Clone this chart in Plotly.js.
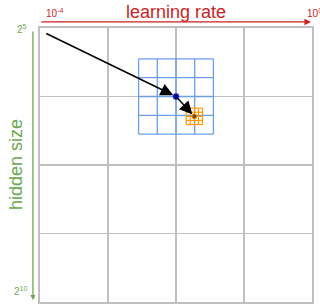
<!DOCTYPE html>
<html><head><meta charset="utf-8">
<script src="https://cdn.plot.ly/plotly-3.0.1.min.js"></script>
<style>html,body{margin:0;padding:0;background:#fff;}#chart{width:320px;height:306px;}</style>
</head><body><div id="chart"></div>
<script>
// Coarse search grid (learning-rate axis x, hidden-size axis y), in grid units
const coarseX = [0, 1, 2, 3, 4];
const coarseY = [0, 1, 2, 3, 4];
// Medium (blue) search grid lines
const blueX = [1.45, 1.725, 2, 2.275, 2.55];
const blueY = [0.45, 0.725, 1, 1.275, 1.55];
// Fine (orange) search grid lines
const orangeX = [2.15, 2.21, 2.27, 2.33, 2.39];
const orangeY = [1.17, 1.23, 1.29, 1.35, 1.41];
// Search path: start, best coarse point, best fine point
const pathX = [0.07, 2, 2.27];
const pathY = [0.07, 1, 1.29];
// Axis labels
const xTickLabels = ['10<sup>-4</sup>', '10<sup>0</sup>'];
const yTickLabels = ['2<sup>5</sup>', '2<sup>10</sup>'];

function gridTrace(xs, ys, color, width) {
  const x = [], y = [];
  xs.forEach(v => { x.push(v, v, null); y.push(ys[0], ys[ys.length-1], null); });
  ys.forEach(v => { x.push(xs[0], xs[xs.length-1], null); y.push(v, v, null); });
  return {x, y, mode: 'lines', line: {color, width}, hoverinfo: 'skip', showlegend: false};
}

const RED = '#cc1f1f', GREEN = '#6aa84f';
const data = [
  gridTrace(blueX, blueY, '#6d9eeb', 1.3),
  gridTrace(orangeX, orangeY, '#ff9900', 1.2),
  {x: [pathX[1]], y: [pathY[1]], mode: 'markers', showlegend: false,
   marker: {size: 6, color: '#000099', line: {color: '#3355cc', width: 1}}},
  {x: [pathX[2]], y: [pathY[2]], mode: 'markers', showlegend: false,
   marker: {size: 5, color: '#6b4a10', line: {color: '#ff9900', width: 1}}}
];

const f = 'Liberation Sans, Arial, sans-serif';
const C = {xanchor: 'center', yanchor: 'middle'};
const layout = {
  width: 320, height: 306,
  margin: {l: 40, r: 8, t: 28, b: 4},
  paper_bgcolor: '#fff', plot_bgcolor: '#fff',
  xaxis: {range: [coarseX[0], coarseX[coarseX.length-1]], tickvals: coarseX, showticklabels: false, ticks: '',
          showgrid: true, gridcolor: '#c0c0c0', gridwidth: 1.6, zeroline: false,
          showline: true, mirror: true, linecolor: '#c0c0c0', linewidth: 1.6},
  yaxis: {range: [coarseY[coarseY.length-1], coarseY[0]], tickvals: coarseY, showticklabels: false, ticks: '',
          showgrid: true, gridcolor: '#c0c0c0', gridwidth: 1.6, zeroline: false,
          showline: true, mirror: true, linecolor: '#c0c0c0', linewidth: 1.6},
  annotations: [
    {x: pathX[1], y: pathY[1], ax: pathX[0], ay: pathY[0], xref: 'x', yref: 'y', axref: 'x', ayref: 'y',
     text: '', showarrow: true, arrowhead: 2, arrowsize: 1.7, arrowwidth: 1.5, arrowcolor: '#000', standoff: 3},
    {x: pathX[2], y: pathY[2], ax: pathX[1], ay: pathY[1], xref: 'x', yref: 'y', axref: 'x', ayref: 'y',
     text: '', showarrow: true, arrowhead: 2, arrowsize: 1.7, arrowwidth: 1.5, arrowcolor: '#000', standoff: 3},
    // learning rate axis
    Object.assign({x: 0.5, y: 1.058, xref: 'paper', yref: 'paper', text: 'learning rate', showarrow: false,
     font: {family: f, size: 18, color: RED}}, C),
    {x: 0.996, y: 1.022, xref: 'paper', yref: 'paper', ax: -271, ay: 0, text: '', showarrow: true,
     arrowhead: 2, arrowsize: 1, arrowwidth: 1.3, arrowcolor: RED},
    {x: 0.013, y: 1.055, xref: 'paper', yref: 'paper', xanchor: 'left', yanchor: 'middle', text: xTickLabels[0], showarrow: false,
     font: {family: f, size: 10, color: RED}},
    {x: 0.974, y: 1.055, xref: 'paper', yref: 'paper', xanchor: 'left', yanchor: 'middle', text: xTickLabels[1], showarrow: false,
     font: {family: f, size: 10, color: RED}},
    // hidden size axis
    Object.assign({x: -0.088, y: 0.5, xref: 'paper', yref: 'paper', text: 'hidden size', textangle: -90, showarrow: false,
     font: {family: f, size: 18, color: GREEN}}, C),
    {x: -0.026, y: 0.007, xref: 'paper', yref: 'paper', ax: 0, ay: -270, text: '', showarrow: true,
     arrowhead: 2, arrowsize: 0.8, arrowwidth: 1.3, arrowcolor: GREEN},
    Object.assign({x: -0.066, y: 0.996, xref: 'paper', yref: 'paper', text: yTickLabels[0], showarrow: false,
     font: {family: f, size: 10, color: GREEN}}, C),
    Object.assign({x: -0.072, y: 0.04, xref: 'paper', yref: 'paper', text: yTickLabels[1], showarrow: false,
     font: {family: f, size: 10, color: GREEN}}, C)
  ]
};
Plotly.newPlot('chart', data, layout, {displayModeBar: false, staticPlot: true});
</script></body></html>
